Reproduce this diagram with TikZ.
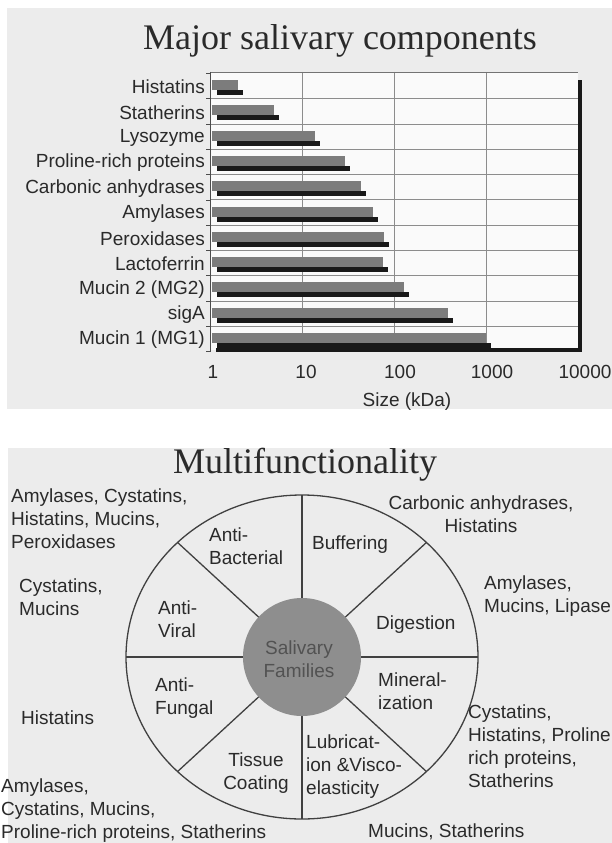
\documentclass[tikz,border=0pt]{standalone}
\usepackage{fontspec}
\setmainfont{Liberation Serif}
\setsansfont{Liberation Sans}
\usepackage{tikz}
\usetikzlibrary{calc,positioning}
\definecolor{panel}{HTML}{ECECEC}
\definecolor{ink}{HTML}{2A2A2A}
\definecolor{barface}{HTML}{7C7C7C}
\definecolor{hub}{HTML}{8E8E8E}

\tikzset{
  lbl/.style={font=\sffamily\fontsize{19}{23}\selectfont,text=ink,inner sep=0pt},
  lbll/.style={lbl,align=left,anchor=west},
  lblc/.style={lbl,align=center},
  ttl/.style={font=\fontsize{36}{38}\selectfont,text=ink,inner sep=0pt},
  gridline/.style={draw=black!45,line width=0.6pt},
  spoke/.style={draw=black!75,line width=1.3pt}
}

\begin{document}
\begin{tikzpicture}[x=1pt,y=-1pt]
\useasboundingbox (0,0) rectangle (612,843);
\fill[panel] (7,8) rectangle (612,409);
\fill[panel] (8,448) rectangle (612,843);

% --- bar chart
\node[ttl] (title1) at (340,41) {Major salivary components};
\fill[black!2] (210,72) rectangle (578,350);
\foreach \i in {0,...,9}
  \draw[gridline] (210,{98.5+25.3*\i}) -- (578,{98.5+25.3*\i});
\foreach \v in {10,100,1000}
  \draw[gridline] ({210+92*log10(\v)},72) -- ({210+92*log10(\v)},350);
\draw[black!55] (210,72) -- (578,72);
\draw[black!70] (210,72) -- (210,352);
\foreach \i in {0,...,11}
  \draw[black!70] (206,{73.2+25.3*\i}) -- (210,{73.2+25.3*\i});
\foreach \nm/\v [count=\i from 0] in {Histatins/2,Statherins/5,Lysozyme/14,
    Proline-rich proteins/29,Carbonic anhydrases/44,Amylases/59,Peroxidases/78,
    Lactoferrin/76,Mucin 2 (MG2)/130,sigA/385,Mucin 1 (MG1)/1000}{
  \pgfmathsetmacro\c{87+25.3*\i}
  \pgfmathsetmacro\e{210+92*log10(\v)}
  \fill[barface] (212,\c-7) rectangle (\e,\c+3);
  \fill[black!90] (217,\c+3) rectangle (\e+5,\c+8);
  \node[lbl,anchor=east] (row\i) at (205,\c) {\nm};
}
\draw[line width=3.5pt,black!90] (216,350) -- (580,350) -- (580,80);
\foreach \t/\x in {1/213,10/306,100/400,1000/492,10000/585}
  \node[lbl] (tick\t) at (\x,372) {\t};
\node[lbl] (xlabel) at (407,402) {Size (kDa)};

% --- wheel
\node[ttl] (title2) at (305,465) {Multifunctionality};
\coordinate (w) at (302,657);
\draw[spoke] (w) ellipse [x radius=176pt,y radius=162pt];
\foreach \a in {0,45,...,315}
  \draw[spoke] (w) -- ($(w)+(\a:176pt and 162pt)$);
\node[circle,fill=hub,minimum size=118pt,inner sep=0pt] (hub) at (w) {};
\node[lblc,text=black!68] (sal) at (299,659) {Salivary\\Families};

\node[lbll] (bact) at (209,546) {Anti-\\Bacterial};
\node[lbll] (buff) at (312,545) {Buffering};
\node[lbll] (vir) at (158,619) {Anti-\\Viral};
\node[lbll] (dig) at (376,625) {Digestion};
\node[lbll] (fung) at (155,698) {Anti-\\Fungal};
\node[lbll] (mine) at (378,691) {Mineral-\\ization};
\node[lblc] (coat) at (256,773) {Tissue\\Coating};
\node[lbll] (lubr) at (306,767) {Lubricat-\\ion \&Visco-\\elasticity};

\node[lbll] (g1) at (11,519) {Amylases, Cystatins,\\Histatins, Mucins,\\Peroxidases};
\node[lblc] (g2) at (481,514) {Carbonic anhydrases,\\Histatins};
\node[lbll] (g3) at (19,597) {Cystatins,\\Mucins};
\node[lbll] (g4) at (484,596) {Amylases,\\Mucins, Lipase};
\node[lbll] (g5) at (21,718) {Histatins};
\node[lbll] (g6) at (468,746) {Cystatins,\\Histatins, Proline\\rich proteins,\\Statherins};
\node[lbll] (g7) at (1,811) {Amylases,\\Cystatins, Mucins,\\Proline-rich proteins, Statherins};
\node[lbll] (g8) at (368,832) {Mucins, Statherins};
\end{tikzpicture}
\end{document}
